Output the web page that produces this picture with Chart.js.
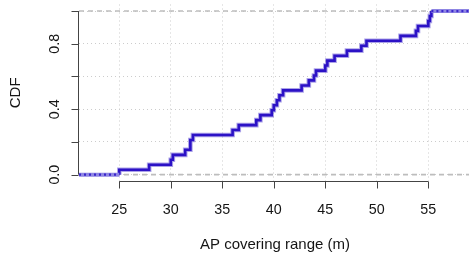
<!DOCTYPE html>
<html>
<head>
<meta charset="utf-8">
<script src="https://cdn.jsdelivr.net/npm/chart.js@4/dist/chart.umd.min.js"></script>
<style>
html,body{margin:0;padding:0;background:#fff;overflow:hidden;}
canvas{display:block;}
</style>
</head>
<body>
<canvas id="c" width="469" height="254"></canvas>
<script>
// ECDF knots (AP covering range, m) and CDF levels
const knots = [25.0, 27.9, 30.0, 30.2, 31.4, 31.9, 32.15, 36.0, 36.6, 38.3, 38.7, 39.8, 40.0, 40.3, 40.55, 40.9,
               42.7, 43.4, 43.9, 44.1, 45.0, 45.2, 45.9, 47.1, 48.5, 49.0, 52.3, 53.8, 54.0, 55.0, 55.15, 55.3];
const cdf   = [0.030, 0.061, 0.091, 0.121, 0.152, 0.212, 0.242, 0.273, 0.303, 0.333, 0.364, 0.394, 0.424, 0.455, 0.485, 0.515,
               0.545, 0.576, 0.606, 0.636, 0.667, 0.697, 0.727, 0.758, 0.788, 0.818, 0.848, 0.879, 0.909, 0.939, 0.970, 1.000];
const xTicks = [25, 30, 35, 40, 45, 50, 55];
const xTickLabels = ['25', '30', '35', '40', '45', '50', '55'];
const yTicks = [0, 0.2, 0.4, 0.6, 0.8, 1.0];
const yLabelValues = [0, 0.4, 0.8];
const yTickLabels = ['0.0', '0.4', '0.8'];
const xTitle = 'AP covering range (m)';
const yTitle = 'CDF';
const xRange = [21.09, 58.95];
const yRange = [-0.04, 1.04];

const mainCurve = [{x: knots[0], y: 0}].concat(knots.map((k, i) => ({x: k, y: cdf[i]})));
const leftEnd = [{x: xRange[0], y: 0}, {x: knots[0], y: 0}];
const rightEnd = [{x: knots[knots.length - 1], y: cdf[cdf.length - 1]}, {x: xRange[1], y: cdf[cdf.length - 1]}];
const zeroLine = [{x: xRange[0], y: 0}, {x: xRange[1], y: 0}];
const oneLine = [{x: xRange[0], y: 1}, {x: xRange[1], y: 1}];

const FONT = '"Liberation Sans", Arial, sans-serif';
const axisPlugin = {
  id: 'rAxes',
  afterDraw(chart) {
    const ctx = chart.ctx, xs = chart.scales.x, ys = chart.scales.y, ca = chart.chartArea;
    ctx.save();
    ctx.strokeStyle = '#444';
    ctx.lineWidth = 1;
    // x axis
    const ay = Math.round(ca.bottom) + 0.5;
    ctx.beginPath();
    ctx.moveTo(xs.getPixelForValue(xTicks[0]), ay);
    ctx.lineTo(xs.getPixelForValue(xTicks[xTicks.length - 1]), ay);
    xTicks.forEach(v => { const p = Math.round(xs.getPixelForValue(v)) + 0.5; ctx.moveTo(p, ay); ctx.lineTo(p, ay + 7); });
    ctx.stroke();
    ctx.fillStyle = '#151515';
    ctx.font = '14.3px ' + FONT;
    ctx.textAlign = 'center';
    ctx.textBaseline = 'middle';
    xTicks.forEach((v, i) => ctx.fillText(xTickLabels[i], xs.getPixelForValue(v), 210));
    ctx.font = '15px ' + FONT;
    ctx.fillText(xTitle, (ca.left + xs.getPixelForValue(xRange[1]) + 2) / 2, 245);
    // y axis
    const ax = Math.round(ca.left) - 0.5;
    ctx.beginPath();
    ctx.moveTo(ax, ys.getPixelForValue(yTicks[0]));
    ctx.lineTo(ax, ys.getPixelForValue(yTicks[yTicks.length - 1]));
    yTicks.forEach(v => { const p = Math.round(ys.getPixelForValue(v)) + 0.5; ctx.moveTo(ax, p); ctx.lineTo(ax - 7, p); });
    ctx.stroke();
    ctx.font = '14.3px ' + FONT;
    yLabelValues.forEach((v, i) => {
      ctx.save();
      ctx.translate(55, ys.getPixelForValue(v));
      ctx.rotate(-Math.PI / 2);
      ctx.fillText(yTickLabels[i], 0, 0);
      ctx.restore();
    });
    ctx.save();
    ctx.font = '15px ' + FONT;
    ctx.translate(16, (ca.top + ca.bottom) / 2);
    ctx.rotate(-Math.PI / 2);
    ctx.fillText(yTitle, 0, 0);
    ctx.restore();
    ctx.restore();
  }
};

const common = {pointRadius: 0, fill: false, tension: 0};
new Chart(document.getElementById('c'), {
  type: 'line',
  data: {
    datasets: [
      Object.assign({data: leftEnd, borderColor: '#3a26cc', borderWidth: 2.2, borderDash: [2, 3]}, common),
      Object.assign({data: rightEnd, borderColor: '#3a26cc', borderWidth: 2.2, borderDash: [2, 3]}, common),
      Object.assign({data: leftEnd, borderColor: '#8f86e3', borderWidth: 4}, common),
      Object.assign({data: rightEnd, borderColor: '#8f86e3', borderWidth: 4}, common),
      Object.assign({data: mainCurve, borderColor: '#2c12c6', borderWidth: 2.6, stepped: true}, common),
      Object.assign({data: mainCurve, borderColor: 'rgba(70,50,205,0.45)', borderWidth: 4.6, stepped: true}, common),
      Object.assign({data: zeroLine, borderColor: '#bdbdbd', borderWidth: 1.6, borderDash: [5, 4]}, common),
      Object.assign({data: oneLine, borderColor: '#bdbdbd', borderWidth: 1.6, borderDash: [5, 4]}, common)
    ]
  },
  options: {
    responsive: false,
    animation: false,
    devicePixelRatio: 1,
    layout: {padding: {left: 79, right: 0, top: 4.5, bottom: 72.8}},
    plugins: {legend: {display: false}, tooltip: {enabled: false}},
    scales: {
      x: {
        type: 'linear', min: xRange[0], max: xRange[1],
        afterBuildTicks: s => { s.ticks = xTicks.map(v => ({value: v})); },
        afterFit: s => { s.height = 0; },
        ticks: {display: false},
        grid: {color: '#cccccc', lineWidth: 1, drawTicks: false},
        border: {display: false, dash: [1, 3]}
      },
      y: {
        type: 'linear', min: yRange[0], max: yRange[1],
        afterBuildTicks: s => { s.ticks = yTicks.map(v => ({value: v})); },
        afterFit: s => { s.width = 0; },
        ticks: {display: false},
        grid: {color: '#cccccc', lineWidth: 1, drawTicks: false},
        border: {display: false, dash: [1, 3]}
      }
    }
  },
  plugins: [axisPlugin]
});
</script>
</body>
</html>
